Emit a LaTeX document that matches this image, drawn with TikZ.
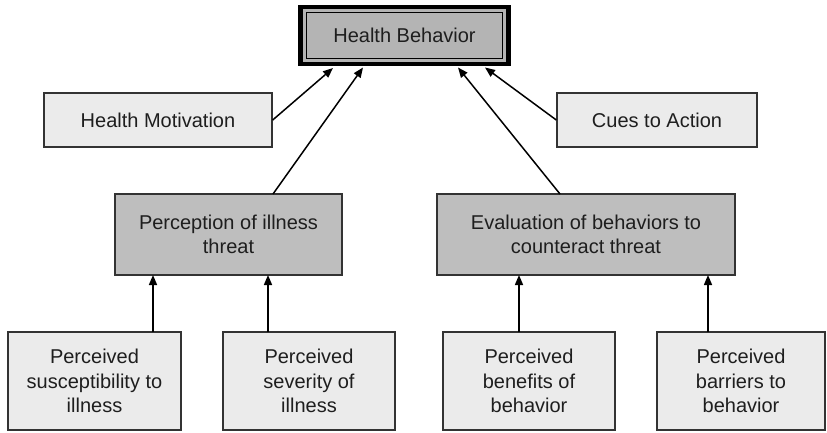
\documentclass[tikz,border=0pt]{standalone}
\usepackage{fontspec}
\setmainfont{Liberation Sans}
\usetikzlibrary{arrows.meta}
\definecolor{ink}{HTML}{1E1E1E}
\definecolor{edge}{HTML}{333333}
\definecolor{lightfill}{HTML}{EBEBEB}
\definecolor{darkfill}{HTML}{BEBEBE}
\definecolor{topfill}{HTML}{B4B4B4}
\begin{document}
\begin{tikzpicture}[x=1pt,y=-1pt,
  box/.style={draw=edge,line width=1.4pt,text=ink,align=center,
    font=\fontsize{20}{24.5}\selectfont,inner sep=0pt},
  lightbox/.style={box,fill=lightfill},
  darkbox/.style={box,fill=darkfill},
  link/.style={-{Triangle[length=10pt,width=8pt]},line width=1.5pt,draw=black}]
\useasboundingbox (0,0) rectangle (827,433);

% top node: thick outer frame with an inner ruled box
\node[draw=black,line width=4.5pt,fill=topfill,minimum width=208pt,minimum height=57pt,inner sep=0pt]
  (hbframe) at (404.5,35.5) {};
\node[box,fill=topfill,line width=1.3pt,draw=black,minimum width=196pt,minimum height=46pt]
  (hb) at (404.5,35.5) {Health Behavior};

% middle row
\node[lightbox,minimum width=228pt,minimum height=54pt] (hm) at (158,120) {Health Motivation};
\node[lightbox,minimum width=200pt,minimum height=54pt] (cue) at (657,120) {Cues to Action};

\node[darkbox,minimum width=227pt,minimum height=81pt] (pit) at (228.5,234.5)
  {Perception of illness\\threat};
\node[darkbox,minimum width=298pt,minimum height=81pt] (ebc) at (586,234.5)
  {Evaluation of behaviors to\\counteract threat};

% bottom row
\node[lightbox,minimum width=173pt,minimum height=98pt] (ps) at (94.5,381)
  {Perceived\\susceptibility to\\illness};
\node[lightbox,minimum width=172pt,minimum height=98pt] (pv) at (309,381)
  {Perceived\\severity of\\illness};
\node[lightbox,minimum width=172pt,minimum height=98pt] (pb) at (529,381)
  {Perceived\\benefits of\\behavior};
\node[lightbox,minimum width=168pt,minimum height=98pt] (pr) at (741,381)
  {Perceived\\barriers to\\behavior};

% connectors into the top node
\draw[link] (hm.east) -- (333,68);
\draw[link] (273,194) -- (363,67.5);
\draw[link] (560,194) -- (458,67.5);
\draw[link] (cue.west) -- (485,67.5);

% connectors into the middle row
\draw[link] (153,332) -- (153,275);
\draw[link] (268,332) -- (268,275);
\draw[link] (519,332) -- (519,275);
\draw[link] (708,332) -- (708,275);
\end{tikzpicture}
\end{document}
